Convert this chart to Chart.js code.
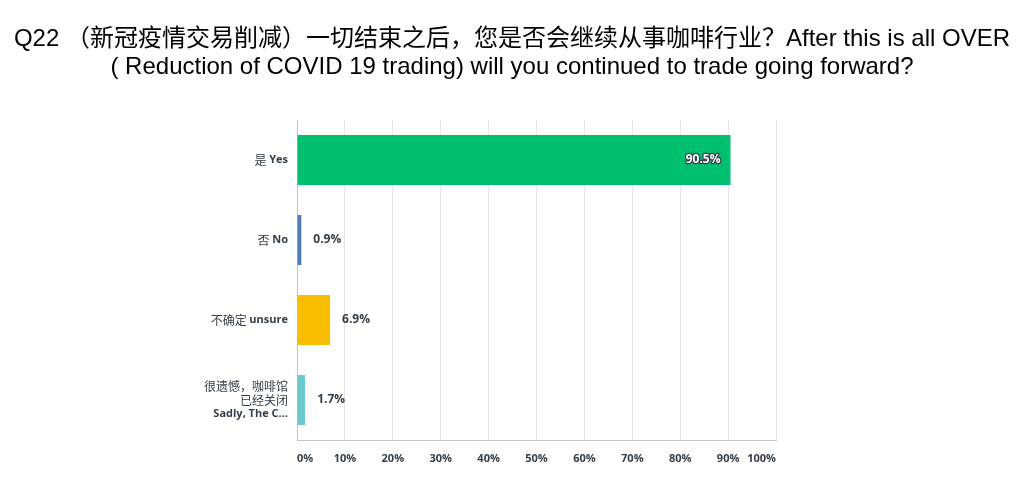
<!DOCTYPE html>
<html lang="zh">
<head>
  <meta charset="UTF-8">
  <title>Q22 Chart</title>
  <script src="https://cdn.jsdelivr.net/npm/chart.js"></script>
  <style>
    html, body { margin: 0; padding: 0; background: #fff; }
    #wrap { position: relative; width: 1024px; height: 493px; }
    #title {
      position: absolute; left: 0; top: 24px; width: 1024px;
      text-align: center; color: #000;
      font: 24px/28px "Liberation Sans", Arial, "Noto Sans CJK SC", sans-serif;
    }
  </style>
</head>
<body>
  <div id="wrap">
    <canvas id="q22Chart"></canvas>
    <div id="title"></div>
  </div>
  <script>
    // chart data
    const titleLines = [
      'Q22 （新冠疫情交易削减）一切结束之后，您是否会继续从事咖啡行业？After this is all OVER',
      '( Reduction of COVID 19 trading) will you continued to trade going forward?'
    ];
    const categoriesZh = [['是'], ['否'], ['不确定'], ['很遗憾，咖啡馆', '已经关闭']];
    const categoriesEn = ['Yes', 'No', 'unsure', 'Sadly, The C...'];
    const percentValues = [90.5, 0.9, 6.9, 1.7];
    const barColors = ['#00bf6f', '#507cb6', '#f9be00', '#6bc8cd'];
    const xTicks = [0, 10, 20, 30, 40, 50, 60, 70, 80, 90, 100];

    const labelFont = '"Noto Sans CJK SC", sans-serif';
    const numFont = '"Open Sans", Lato, sans-serif';

    document.getElementById('title').innerHTML = titleLines.join('<br>');

    // category labels: Chinese part regular, English part bold
    const categoryLabels = {
      id: 'categoryLabels',
      afterDraw(chart) {
        const ctx = chart.ctx;
        const yScale = chart.scales.y;
        const right = chart.chartArea.left - 9;
        ctx.save();
        ctx.fillStyle = '#333e48';
        ctx.textAlign = 'right';
        ctx.textBaseline = 'middle';
        categoriesZh.forEach((zh, i) => {
          const cy = yScale.getPixelForValue(i);
          const en = categoriesEn[i];
          if (zh.length === 1) {
            ctx.font = 'bold 11px ' + numFont;
            const enW = ctx.measureText(en).width;
            ctx.fillText(en, right, cy);
            ctx.font = '12px ' + labelFont;
            ctx.fillText(zh[0] + ' ', right - enW, cy);
          } else {
            const lines = zh.length + 1;
            const top = cy - (lines - 1) * 14 / 2;
            ctx.font = '12px ' + labelFont;
            zh.forEach((line, j) => ctx.fillText(line, right, top + j * 14));
            ctx.font = 'bold 11px ' + numFont;
            ctx.fillText(en, right, top + zh.length * 14);
          }
        });
        ctx.restore();
      }
    };

    // percentage labels at the end of each bar
    const valueLabels = {
      id: 'valueLabels',
      afterDatasetsDraw(chart) {
        const ctx = chart.ctx;
        const meta = chart.getDatasetMeta(0);
        ctx.save();
        ctx.font = 'bold 12px ' + numFont;
        ctx.textBaseline = 'middle';
        meta.data.forEach((bar, i) => {
          const text = percentValues[i].toFixed(1) + '%';
          if (percentValues[i] > 50) {
            ctx.textAlign = 'right';
            ctx.lineWidth = 2.5;
            ctx.lineJoin = 'round';
            ctx.strokeStyle = '#333e48';
            ctx.strokeText(text, bar.x - 10, bar.y);
            ctx.fillStyle = '#ffffff';
            ctx.fillText(text, bar.x - 10, bar.y);
          } else {
            ctx.textAlign = 'left';
            ctx.fillStyle = '#333e48';
            ctx.fillText(text, bar.x + 12, bar.y);
          }
        });
        ctx.restore();
      }
    };

    new Chart(document.getElementById('q22Chart'), {
      type: 'bar',
      data: {
        labels: categoriesEn,
        datasets: [{
          data: percentValues,
          backgroundColor: barColors,
          borderWidth: 0,
          barPercentage: 0.625,
          categoryPercentage: 1
        }]
      },
      options: {
        indexAxis: 'y',
        responsive: true,
        maintainAspectRatio: false,
        animation: false,
        layout: { padding: { left: 0, right: 248, top: 120, bottom: 0 } },
        plugins: {
          legend: { display: false },
          tooltip: { enabled: false },
          title: { display: false }
        },
        scales: {
          x: {
            min: 0,
            max: 100,
            afterBuildTicks(scale) {
              scale.ticks = xTicks.map(v => ({ value: v }));
            },
            afterFit(scale) { scale.height = 53; },
            grid: { color: '#e6e6e6', drawTicks: false },
            border: { color: '#c4c4c4' },
            ticks: {
              align: 'inner',
              padding: 12,
              color: '#333e48',
              font: { family: numFont, size: 11, weight: 'bold' },
              callback: v => v + '%'
            }
          },
          y: {
            afterFit(scale) { scale.width = 297; },
            grid: { display: false },
            border: { color: '#c4c4c4' },
            ticks: { display: false }
          }
        }
      },
      plugins: [categoryLabels, valueLabels]
    });
  </script>
</body>
</html>
